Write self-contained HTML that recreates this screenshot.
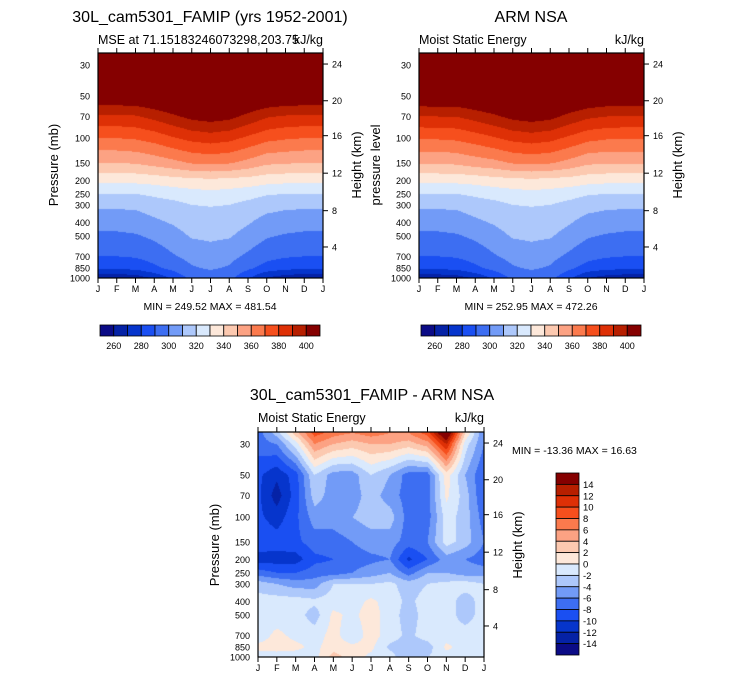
<!DOCTYPE html>
<html><head><meta charset="utf-8">
<style>
body{margin:0;background:#fff;width:733px;height:682px;overflow:hidden;position:relative;font-family:"Liberation Sans",Arial,sans-serif}
canvas{position:absolute}
svg{position:absolute;left:0;top:0}
</style></head>
<body>
<canvas id="c1"></canvas>
<canvas id="c2"></canvas>
<canvas id="c3"></canvas>
<svg id="s" width="733" height="682"></svg>
<script>
const months = ["J","F","M","A","M","J","J","A","S","O","N","D","J"];
const pLevels = [25,30,50,70,100,150,200,250,300,400,500,700,850,1000];
const pTicks = [30,50,70,100,150,200,250,300,400,500,700,850,1000];
const hTicks = [24,20,16,12,8,4];
const hTickP = [29.5,54,96,178,330,600];
const mseLevels = [260,270,280,290,300,310,320,330,340,350,360,370,380,390,400];
const mseLabels = [260,280,300,320,340,360,380,400];
const diffLevels = [-14,-12,-10,-8,-6,-4,-2,0,2,4,6,8,10,12,14];
const diffLabels = [14,12,10,8,6,4,2,0,-2,-4,-6,-8,-10,-12,-14];
const palette = ["#0b0b86","#0522a6","#0635cc","#1a4ff2","#3d6ef2","#729bf7","#adc8fb","#d9e9fd","#fde8da","#fcc9b0","#fca283","#fb7a4d","#f64f1d","#de3006","#b71f00","#850000"];
// columns: months J..J, rows: pLevels
const modelValues = [
[440,430,410,388,370,350,333,320,312,304,298,290,282,262],
[440,430,410,388,370,350,333,320,312,304,298,290,282,262],
[440,430,410,389,371,351,333,320,312,305,299,291,283,264],
[443,433,413,393,374,354,334,322,315,308,302,294,288,272],
[446,436,416,398,379,357,336,324,317,311,306,299,293,282],
[449,439,419,403,383,361,337,326,320,315,311,303,299,293],
[450,440,420,405,385,362,338,327,320.5,316,312,305,301,296],
[449,439,419,403,383,361,337,326,320,315,311,303,299,293],
[445,435,415,397,378,357,336,324,317,311,306,298,292,281],
[442,432,412,391,373,352,334,321,314,306,301,293,286,269],
[440,430,410,389,371,351,333,320,312,305,299,291,283,264],
[440,430,410,388,370,350,333,320,312,304,298,290,282,262],
[440,430,410,388,370,350,333,320,312,304,298,290,282,262]];
const armValues = [
[441,431,411,389,371,351,333,320,312,304,298,290,282,263],
[441,431,411,390,371,351,333,320,312,304,298,290,282,263],
[441,431,411,390,372,352,333,320,312,305,299,291,283,265],
[443,433,413,394,375,355,334,322,315,308,302,294,288,272],
[446,436,416,398,379,357,336,324,317,311,306,299,293,282],
[449,439,419,403,383,361,337,326,320,315,311,303,299,292],
[450,440,420,405,385,362,338,327,320.5,316,312,305,301,296],
[449,439,419,403,383,361,337,326,320,315,311,303,299,293],
[445,435,415,397,378,357,336,324,317,311,306,298,292,282],
[442,432,412,392,373,352,334,321,314,306,301,293,286,270],
[440,430,410,390,371,351,333,320,312,305,299,291,283,265],
[440,430,410,389,371,351,333,320,312,304,298,290,282,263],
[441,431,411,389,371,351,333,320,312,304,298,290,282,263]];
const diffValues = [
[-7,-7,-9.5,-9.5,-9.5,-8.5,-11,-7,-3,-1,-1,-1,0.5,-1],
[-3,-6,-11.5,-13,-11,-9,-11,-8,-4,-1,-1,0.5,0.8,-1],
[3,-1,-9,-9,-8.5,-8.5,-11,-8,-5,-1,-1,-0.5,0.5,-1],
[9,6,-2,-3,-5,-7,-8.5,-7,-5,-1.5,-3,-1,-0.5,-1],
[7,4,-5,-5,-5,-7,-8,-7,-2,-1,0.5,0.8,1,3],
[6,3,-5,-5,-4,-6,-7,-6,-2,-1,-0.5,-1.5,0.5,1],
[7,4,-2,-3,-3,-5,-6.5,-5,-2,0.5,1,1,0.5,-0.5],
[6,4,-4,-5,-3,-5,-6,-4,-1.5,-1,-1,-1,-2.5,-1],
[6,3,-7,-7,-7,-7,-10.5,-7,-3,-2.5,-3,-2.5,-3,-4],
[9,5,-7,-7,-7,-6,-8,-4,-2,-1,-1,-1,-3,-2],
[18,12,1,0.5,-1,-1,-5,-4,-1.5,-1,-1,-1,0.5,-1],
[2,-1,-4,-3,-3,-3,-6,-5,-1,-3,-3,-1,-1,-1],
[-6,-6,-8,-8,-7,-6,-7,-5,-2,-1,-1,-1,-1,-1]];

const SVGNS="http://www.w3.org/2000/svg";
const svg=document.getElementById('s');
function el(tag,attrs,parent){const e=document.createElementNS(SVGNS,tag);for(const k in attrs)e.setAttribute(k,attrs[k]);(parent||svg).appendChild(e);return e;}
function txt(x,y,s,size,anchor,name,rot){const t=el('text',{x:x,y:y,'font-size':size,'text-anchor':anchor||'middle','font-family':'Liberation Sans, Arial, sans-serif',fill:'#000'});if(rot)t.setAttribute('transform','rotate(-90 '+x+' '+y+')');t.textContent=s;return t;}
const PTOP=24.6, PBOT=1000, L=Math.log(PBOT/PTOP);
function levelIndex(v,levels){let i=0;while(i<levels.length&&v>=levels[i])i++;return i;}
function sample(data,m,p){
  const mi=Math.min(Math.floor(m),11), fm=m-mi;
  const lp=Math.log(Math.max(p,25));
  let k=0;while(k<pLevels.length-2&&lp>Math.log(pLevels[k+1]))k++;
  const f=(lp-Math.log(pLevels[k]))/(Math.log(pLevels[k+1])-Math.log(pLevels[k]));
  const a=data[mi][k]*(1-f)+data[mi][k+1]*f, b=data[mi+1][k]*(1-f)+data[mi+1][k+1]*f;
  return a*(1-fm)+b*fm;
}
function plot(cfg){
  const {x0,y0,w,h,data,levels,canvasId}=cfg;
  const cv=document.getElementById(canvasId);cv.width=w;cv.height=h;cv.style.left=x0+'px';cv.style.top=y0+'px';
  const ctx=cv.getContext('2d');const img=ctx.createImageData(w,h);
  const rgb=palette.map(c=>[parseInt(c.substr(1,2),16),parseInt(c.substr(3,2),16),parseInt(c.substr(5,2),16)]);
  for(let py=0;py<h;py++){const p=PTOP*Math.exp((py+0.5)/h*L);
    for(let px=0;px<w;px++){const m=(px+0.5)/w*12;const v=sample(data,m,p);const c=rgb[levelIndex(v,levels)];const o=(py*w+px)*4;img.data[o]=c[0];img.data[o+1]=c[1];img.data[o+2]=c[2];img.data[o+3]=255;}}
  ctx.putImageData(img,0,0);
  const yOf=p=>y0+Math.log(p/PTOP)/L*h;
  el('rect',{x:x0,y:y0,width:w,height:h,fill:'none',stroke:'#000','stroke-width':1.2});
  months.forEach((m,i)=>{const x=x0+i*w/12;
    el('line',{x1:x,y1:y0,x2:x,y2:y0-5,stroke:'#000'});el('line',{x1:x,y1:y0+h,x2:x,y2:y0+h+5,stroke:'#000'});
    txt(x,y0+h+14,m,9,'middle','month-label');});
  pTicks.forEach(p=>{const y=yOf(p);txt(x0-8,y+3.5,String(p),9,'end','pressure-tick-label');});
  hTicks.forEach((hh,i)=>{const y=yOf(hTickP[i]);el('line',{x1:x0+w,y1:y,x2:x0+w+5,y2:y,stroke:'#000'});txt(x0+w+9,y+3.5,String(hh),9,'start','height-tick-label');});
}
plot({x0:98,y0:53,w:225,h:225,data:modelValues,levels:mseLevels,canvasId:'c1'});
plot({x0:419,y0:53,w:225,h:225,data:armValues,levels:mseLevels,canvasId:'c2'});
plot({x0:258,y0:432,w:226,h:225,data:diffValues,levels:diffLevels,canvasId:'c3'});

// texts
txt(210,22,"30L_cam5301_FAMIP (yrs 1952-2001)",16,'middle','model-title');
txt(98,44,"MSE at 71.15183246073298,203.75",12.5,'start','model-subtitle');
txt(323,44,"kJ/kg",12.5,'end','model-units');
txt(58,165,"Pressure (mb)",13,'middle','model-y-axis-title',true);
txt(361,165,"Height (km)",13,'middle','model-right-axis-title',true);
txt(210,310,"MIN = 249.52 MAX = 481.54",10.5,'middle','model-min-max');
txt(531,22,"ARM NSA",16,'middle','arm-title');
txt(419,44,"Moist Static Energy",12.5,'start','arm-subtitle');
txt(644,44,"kJ/kg",12.5,'end','arm-units');
txt(380,165,"pressure level",13,'middle','arm-y-axis-title',true);
txt(682,165,"Height (km)",13,'middle','arm-right-axis-title',true);
txt(531,310,"MIN = 252.95 MAX = 472.26",10.5,'middle','arm-min-max');
txt(372,400,"30L_cam5301_FAMIP - ARM NSA",16,'middle','diff-title');
txt(258,422,"Moist Static Energy",12.5,'start','diff-subtitle');
txt(484,422,"kJ/kg",12.5,'end','diff-units');
txt(219,545,"Pressure (mb)",13,'middle','diff-y-axis-title',true);
txt(522,545,"Height (km)",13,'middle','diff-right-axis-title',true);
txt(512,454,"MIN = -13.36 MAX =  16.63",10.5,'start','diff-min-max');

// horizontal colorbars
[[100,'model'],[421,'arm']].forEach(([cx,nm])=>{const bw=220/16;
  palette.forEach((c,i)=>{const r=el('rect',{x:cx+i*bw,y:325,width:bw,height:11,fill:c,stroke:'#000','stroke-width':0.8});});
  mseLabels.forEach(v=>{const i=mseLevels.indexOf(v)+1;txt(cx+i*bw,349,String(v),9,'middle',nm+'-colorbar-label');});
});
// vertical colorbar
{const bh=182/16;palette.slice().reverse().forEach((c,i)=>{const r=el('rect',{x:556,y:473+i*bh,width:23,height:bh,fill:c,stroke:'#000','stroke-width':0.8});});
 diffLabels.forEach((v,i)=>txt(583,473+(i+1)*bh+3.5,String(v),9.5,'start','diff-colorbar-label'));}
</script>
</body></html>
